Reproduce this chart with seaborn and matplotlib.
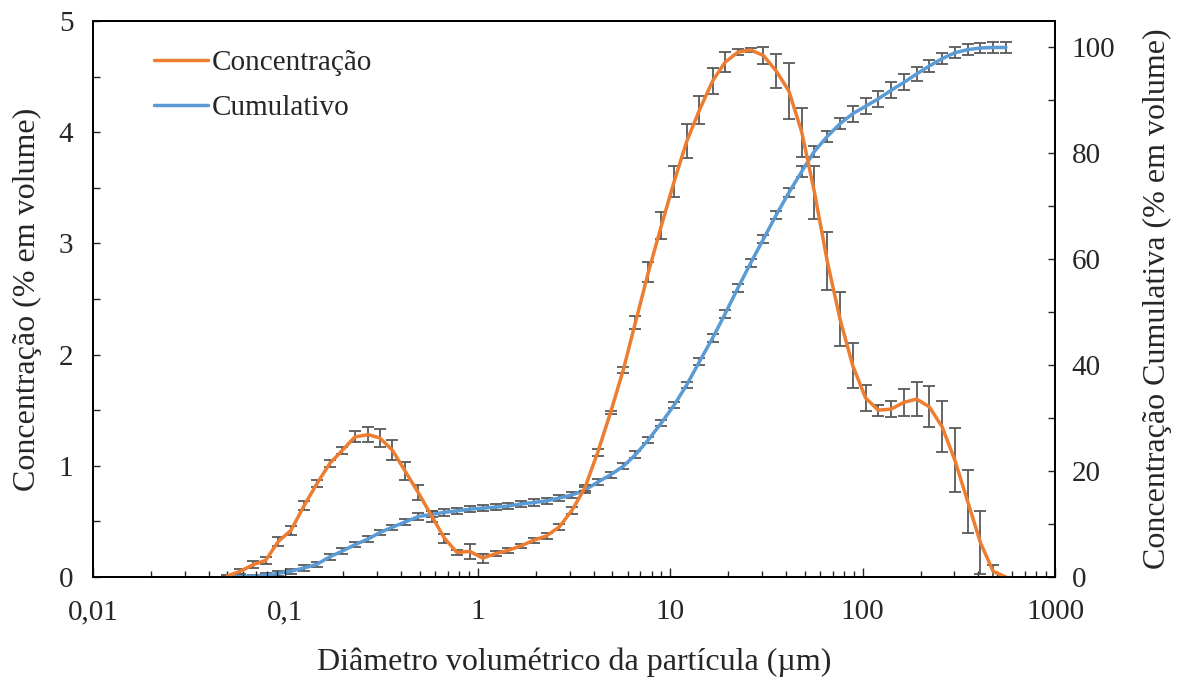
import numpy as np
import pandas as pd
import matplotlib
matplotlib.use("Agg")
import matplotlib.pyplot as plt
from matplotlib.ticker import LogLocator, FixedLocator, MultipleLocator, NullFormatter
from matplotlib.lines import Line2D
import seaborn as sns

# particle size classes (um)
diam = [0.05, 0.058, 0.068, 0.079, 0.092, 0.107, 0.125, 0.146, 0.17, 0.198,
        0.23, 0.27, 0.31, 0.36, 0.42, 0.49, 0.58, 0.67, 0.78, 0.91,
        1.06, 1.24, 1.44, 1.68, 1.95, 2.28, 2.65, 3.09, 3.6, 4.2,
        4.9, 5.7, 6.6, 7.7, 9.0, 10.5, 12.2, 14.2, 16.6, 19.3,
        22.5, 26.2, 30.5, 35.6, 41.4, 48.3, 56.2, 65.5, 76.3, 88.9,
        103.6, 120.7, 140.6, 163.8, 190.8, 222.3, 259.0, 301.7, 351.5, 409.5,
        477.0, 556.0]

# concentration (% em volume) and its error
conc = [0.01, 0.05, 0.11, 0.15, 0.32, 0.42, 0.64, 0.84, 1.02, 1.14,
        1.26, 1.28, 1.25, 1.14, 0.95, 0.76, 0.54, 0.35, 0.22, 0.23,
        0.17, 0.21, 0.24, 0.28, 0.33, 0.37, 0.45, 0.60, 0.80, 1.12,
        1.48, 1.86, 2.29, 2.74, 3.16, 3.56, 3.92, 4.20, 4.46, 4.63,
        4.72, 4.74, 4.69, 4.55, 4.37, 4.00, 3.46, 2.84, 2.32, 1.90,
        1.61, 1.50, 1.51, 1.57, 1.60, 1.53, 1.35, 1.05, 0.68, 0.31,
        0.05, 0.00]
conc_err = [0.01, 0.02, 0.03, 0.03, 0.04, 0.04, 0.04, 0.03, 0.03, 0.03,
            0.05, 0.07, 0.08, 0.09, 0.08, 0.07, 0.05, 0.04, 0.02, 0.07,
            0.04, 0.02, 0.02, 0.02, 0.02, 0.03, 0.03, 0.03, 0.03, 0.03,
            0.01, 0.03, 0.06, 0.09, 0.12, 0.14, 0.15, 0.13, 0.115, 0.09,
            0.03, 0.02, 0.08, 0.15, 0.25, 0.22, 0.24, 0.26, 0.24, 0.20,
            0.12, 0.05, 0.075, 0.12, 0.15, 0.185, 0.23, 0.29, 0.28, 0.28,
            0.06, 0.0]

# cumulative (% em volume) and its error
cum = [0.0, 0.05, 0.16, 0.35, 0.68, 1.1, 1.7, 2.4, 3.8, 4.9,
       6.1, 7.2, 8.4, 9.4, 10.4, 11.4, 11.85, 12.2, 12.5, 12.8,
       13.0, 13.2, 13.4, 13.8, 14.05, 14.4, 14.9, 15.5, 16.4, 17.9,
       19.3, 20.9, 23.1, 25.9, 29.1, 32.5, 36.3, 40.7, 45.1, 49.7,
       54.6, 59.3, 63.8, 68.4, 72.6, 76.6, 80.4, 83.2, 85.6, 87.5,
       88.9, 90.3, 91.9, 93.4, 95.0, 96.5, 97.9, 99.0, 99.6, 99.9,
       100.0, 100.0]
cum_err = [0.1, 0.2, 0.3, 0.4, 0.5, 0.5, 0.5, 0.5, 0.5, 0.5,
           0.5, 0.5, 0.5, 0.5, 0.5, 0.6, 0.6, 0.6, 0.6, 0.6,
           0.6, 0.6, 0.6, 0.6, 0.6, 0.6, 0.6, 0.6, 0.6, 0.6,
           0.6, 0.6, 0.6, 0.6, 0.6, 0.6, 0.6, 0.6, 0.7, 0.7,
           0.7, 0.7, 0.7, 0.7, 0.85, 1.0, 1.0, 1.0, 1.0, 1.5,
           1.5, 1.5, 1.5, 1.5, 1.4, 1.2, 1.1, 1.0, 1.0, 1.0,
           1.0, 1.0]

df = pd.DataFrame({"diam": diam, "conc": conc, "conc_err": conc_err,
                   "cum": cum, "cum_err": cum_err})

orange = "#ED7D31"
blue = "#5B9BD5"
errc = "#595959"

sns.set_style("ticks")
plt.rcParams["font.family"] = ["Liberation Serif", "DejaVu Serif"]

fig = plt.figure(figsize=(11.78, 6.8), dpi=100)
ax = fig.add_axes([0.0789, 0.1515, 0.8167, 0.8176])
ax2 = ax.twinx()

ax.set_xscale("log")

# cumulative on right axis
ax2.errorbar(df["diam"], df["cum"], yerr=df["cum_err"], fmt="none",
             ecolor=errc, elinewidth=1.3, capsize=4, capthick=1.3, zorder=1)
sns.lineplot(data=df, x="diam", y="cum", ax=ax2, color=blue, lw=2.5, zorder=2)

# concentration on left axis
ax.errorbar(df["diam"], df["conc"], yerr=df["conc_err"], fmt="none",
            ecolor=errc, elinewidth=1.3, capsize=4, capthick=1.3, zorder=1)
sns.lineplot(data=df, x="diam", y="conc", ax=ax, color=orange, lw=2.5, zorder=2)

ax.set_zorder(ax2.get_zorder() + 1)
ax.patch.set_visible(False)

ax.set_xlim(0.01, 1000)
ax.set_ylim(0, 5)
ax2.set_ylim(0, 105)

ax.xaxis.set_major_locator(FixedLocator([0.01, 0.1, 1, 10, 100, 1000]))
ax.set_xticklabels(["0,01", "0,1", "1", "10", "100", "1000"])
ax.xaxis.set_minor_locator(LogLocator(base=10, subs=np.arange(2, 10)))
ax.xaxis.set_minor_formatter(NullFormatter())
ax.yaxis.set_major_locator(MultipleLocator(1))
ax.yaxis.set_minor_locator(MultipleLocator(0.5))
ax2.yaxis.set_major_locator(FixedLocator([0, 20, 40, 60, 80, 100]))
ax2.yaxis.set_minor_locator(FixedLocator([10, 30, 50, 70, 90]))

ax.tick_params(axis="x", which="major", direction="in", length=6.5, width=1, labelsize=21, pad=16)
ax.tick_params(axis="x", which="minor", direction="in", length=4.5, width=1)
ax.tick_params(axis="y", which="both", direction="in", length=5, width=1, labelsize=21, pad=14)
ax2.tick_params(axis="y", which="both", direction="in", length=5, width=1, labelsize=21, pad=12)

for a in (ax, ax2):
    for s in a.spines.values():
        s.set_visible(True)
        s.set_linewidth(1.3)
        s.set_color("black")

ax.set_xlabel("Diâmetro volumétrico da partícula (µm)", fontsize=23, labelpad=16)
ax.set_ylabel("Concentração (% em volume)", fontsize=23, labelpad=12)
ax2.set_ylabel("Concentração Cumulativa (% em volume)", fontsize=23, labelpad=20)

handles = [Line2D([], [], color=orange, lw=2.5), Line2D([], [], color=blue, lw=2.5)]
ax.legend(handles, ["Concentração", "Cumulativo"], loc="upper left",
          bbox_to_anchor=(0.036, 0.995), frameon=False, fontsize=21,
          handlelength=1.85, handletextpad=0.15, labelspacing=0.62)

fig.savefig("out.png", dpi=100)
